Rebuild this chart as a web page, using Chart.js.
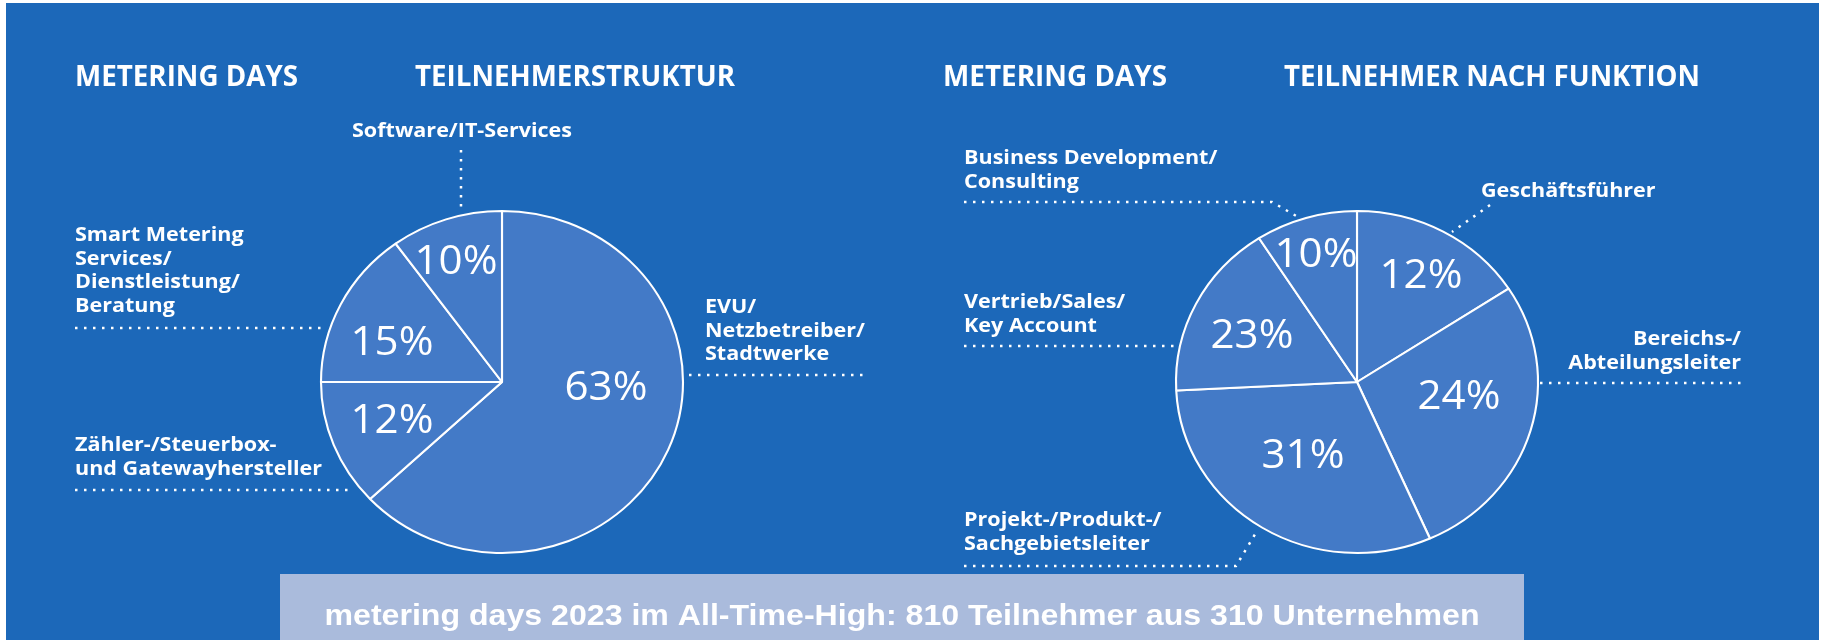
<!DOCTYPE html>
<html lang="de">
<head>
<meta charset="utf-8">
<title>metering days 2023 – Teilnehmer</title>
<script src="https://cdn.jsdelivr.net/npm/chart.js@4.4.1/dist/chart.umd.min.js"></script>
<style>
  html, body { margin: 0; padding: 0; background: #fff; }
  #page { position: relative; width: 1825px; height: 640px; overflow: hidden; }
  #panel { position: absolute; left: 6px; top: 3px; right: 6px; bottom: 0; background: #1c68b9; }
  canvas { position: absolute; left: 0; top: 0; }
</style>
</head>
<body>
<div id="page">
  <div id="panel"></div>
  <canvas id="strukturChart" width="1825" height="640"></canvas>
  <canvas id="funktionChart" width="1825" height="640"></canvas>
</div>
<script>
// Teilnehmerstruktur, im Uhrzeigersinn ab 12 Uhr
const strukturKategorien = [
  ["EVU/", "Netzbetreiber/", "Stadtwerke"],
  ["Zähler-/Steuerbox-", "und Gatewayhersteller"],
  ["Smart Metering", "Services/", "Dienstleistung/", "Beratung"],
  ["Software/IT-Services"]
];
const strukturWerte = [63, 12, 15, 10];
const strukturProzent = ["63%", "12%", "15%", "10%"];

// Teilnehmer nach Funktion, im Uhrzeigersinn ab 12 Uhr
const funktionKategorien = [
  ["Geschäftsführer"],
  ["Bereichs-/", "Abteilungsleiter"],
  ["Projekt-/Produkt-/", "Sachgebietsleiter"],
  ["Vertrieb/Sales/", "Key Account"],
  ["Business Development/", "Consulting"]
];
// Segmentgrößen so, wie sie in der Vorlage gezeichnet sind (passen nicht ganz zu den Beschriftungen)
const funktionSegmente = [15.8, 27.6, 30.8, 16.7, 9.1];
const funktionProzent = ["12%", "24%", "31%", "23%", "10%"];

const titelStruktur = ["METERING DAYS", "TEILNEHMERSTRUKTUR"];
const titelFunktion = ["METERING DAYS", "TEILNEHMER NACH FUNKTION"];
const bannerText = "metering days 2023 im All-Time-High: 810 Teilnehmer aus 310 Unternehmen";

// Farben / Schriften
const WEISS = "#ffffff";
const SEGMENT = "#437ac7";
const BANNER = "#aabbdc";
const STRECKUNG = 181 / 171; // Kreise sind in der Vorlage leicht breitgezogen
const TITEL_FONT = "bold 29px 'Open Sans'";
const LABEL_FONT = "bold 20px 'Open Sans'";
const PROZENT_FONT = "41px 'Open Sans'";
const BANNER_FONT = "bold 30px 'Liberation Sans'";
const ZEILE = 23.5;

// Positionen (Pixel im Bild)
const layoutStruktur = {
  mitte: [502, 382], radius: 171,
  titel: [[75, 86, 223], [415, 86, 320]],
  prozent: [[104, 18], [-110, 51], [-110, -27], [-46, -108]],
  labels: [[705, 313, "left"], [75, 451, "left"], [75, 241, "left"], [352, 137, "left"]],
  linien: [
    [[689, 375], [864, 375]],
    [[75, 490], [353, 490]],
    [[75, 328], [321, 328]],
    [[461, 150], [461, 209]]
  ]
};
const layoutFunktion = {
  mitte: [1357, 382], radius: 171,
  titel: [[943, 86, 224], [1284, 86, 416]],
  prozent: [[64, -94], [102, 27], [-54, 86], [-105, -34], [-41, -115]],
  labels: [[1481, 197, "left"], [1741, 345, "right"], [964, 526, "left"], [964, 308, "left"], [964, 164, "left"]],
  linien: [
    [[1490, 205], [1452, 232]],
    [[1540, 383], [1741, 383]],
    [[964, 566], [1236, 566], [1257, 531]],
    [[964, 346], [1177, 346]],
    [[964, 202], [1272, 202], [1298, 217]]
  ]
};

function gestaucht(ctx, text, x, y, faktor, align) {
  ctx.save();
  ctx.translate(x, y);
  ctx.scale(faktor, 1);
  ctx.textAlign = align || "left";
  ctx.fillText(text, 0, 0);
  ctx.restore();
}

function faktorFuer(ctx, font, probe, breite) {
  ctx.font = font;
  return breite / ctx.measureText(probe).width;
}

function beschriftung(titel, kategorien, prozent, lay, mitBanner) {
  return {
    id: "beschriftung",
    beforeDatasetsDraw(chart) {
      const arc = chart.getDatasetMeta(0).data[0];
      const ctx = chart.ctx;
      ctx.save();
      ctx.translate(arc.x, arc.y);
      ctx.scale(STRECKUNG, 1);
      ctx.translate(-arc.x, -arc.y);
    },
    afterDatasetsDraw(chart) {
      chart.ctx.restore();
    },
    afterDraw(chart) {
      const ctx = chart.ctx;
      const arc = chart.getDatasetMeta(0).data[0];
      ctx.save();
      ctx.fillStyle = WEISS;
      ctx.textBaseline = "alphabetic";

      // Überschriften
      titel.forEach((t, i) => {
        const [x, y, w] = lay.titel[i];
        const f = faktorFuer(ctx, TITEL_FONT, t, w);
        gestaucht(ctx, t, x, y, f, "left");
      });

      // Kategorien mit gepunkteten Linien
      const lf = faktorFuer(ctx, LABEL_FONT, "Software/IT-Services", 220);
      kategorien.forEach((zeilen, i) => {
        const [x, y, align] = lay.labels[i];
        ctx.font = LABEL_FONT;
        zeilen.forEach((z, j) => gestaucht(ctx, z, x, y + j * ZEILE, lf, align));
      });
      ctx.strokeStyle = WEISS;
      ctx.lineWidth = 2.5;
      ctx.setLineDash([2.5, 6.5]);
      lay.linien.forEach(pts => {
        ctx.beginPath();
        pts.forEach(([x, y], k) => (k ? ctx.lineTo(x, y) : ctx.moveTo(x, y)));
        ctx.stroke();
      });
      ctx.setLineDash([]);

      // Prozentwerte in den Segmenten
      const pf = faktorFuer(ctx, PROZENT_FONT, "63%", 83);
      prozent.forEach((p, i) => {
        const [dx, dy] = lay.prozent[i];
        ctx.font = PROZENT_FONT;
        gestaucht(ctx, p, arc.x + dx, arc.y + dy, pf, "center");
      });

      if (mitBanner) {
        ctx.fillStyle = BANNER;
        ctx.fillRect(280, 574, 1244, 66);
        ctx.fillStyle = WEISS;
        const bf = faktorFuer(ctx, BANNER_FONT, bannerText, 1155);
        gestaucht(ctx, bannerText, 902, 625, bf, "center");
      }
      ctx.restore();
    }
  };
}

function pieChart(id, werte, kategorien, prozent, titel, lay, mitBanner) {
  const [cx, cy] = lay.mitte;
  const halb = 200;
  return new Chart(document.getElementById(id), {
    type: "pie",
    data: {
      labels: kategorien.map(z => z.join(" ")),
      datasets: [{
        data: werte,
        backgroundColor: SEGMENT,
        borderColor: WEISS,
        borderWidth: 2,
        clip: false
      }]
    },
    options: {
      responsive: false,
      animation: false,
      events: [],
      radius: lay.radius,
      layout: {
        padding: { left: cx - halb, right: 1825 - cx - halb, top: cy - halb, bottom: 640 - cy - halb }
      },
      plugins: { legend: { display: false }, tooltip: { enabled: false } }
    },
    plugins: [beschriftung(titel, kategorien, prozent, lay, mitBanner)]
  });
}

pieChart("strukturChart", strukturWerte, strukturKategorien, strukturProzent, titelStruktur, layoutStruktur, false);
pieChart("funktionChart", funktionSegmente, funktionKategorien, funktionProzent, titelFunktion, layoutFunktion, true);
</script>
</body>
</html>
